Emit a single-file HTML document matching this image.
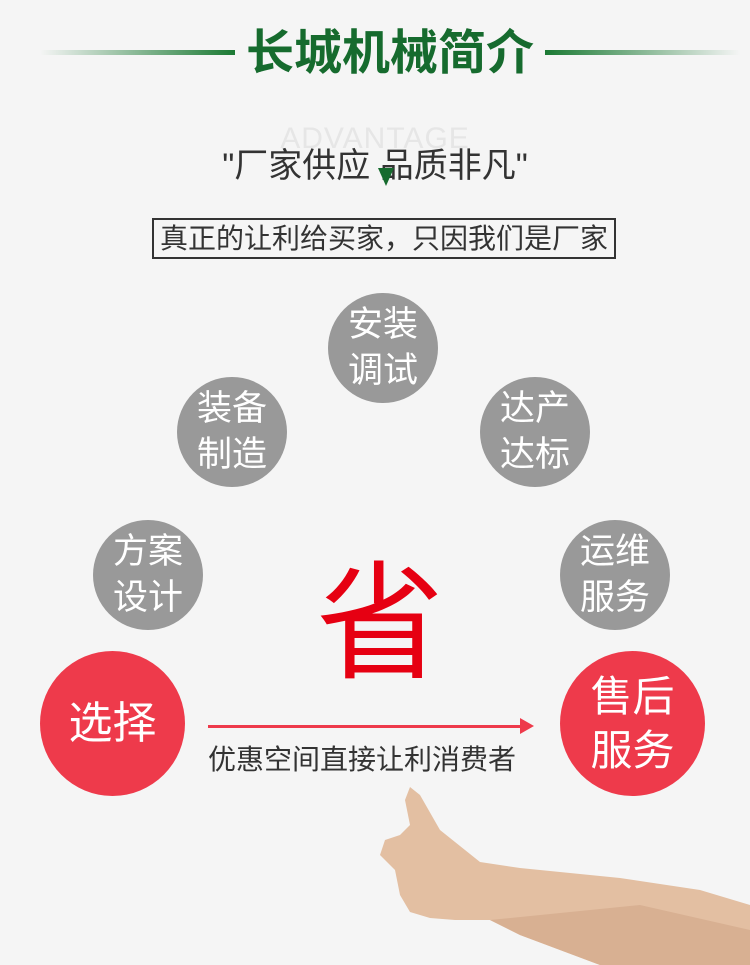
<!DOCTYPE html>
<html><head><meta charset="utf-8"><style>
body{margin:0;width:750px;height:965px;background:#f5f5f5;position:relative;overflow:hidden;font-family:"Liberation Sans","Noto Sans CJK SC",sans-serif}
.a{position:absolute}
.c{position:absolute;border-radius:50%;background:#999;color:#fff;display:flex;align-items:center;justify-content:center;text-align:center;font-size:35px;line-height:46px}
.r{background:#ee3a4b}
</style></head><body>
<div class="a" style="left:40px;top:50px;width:195px;height:5px;background:linear-gradient(to right,rgba(22,107,46,0),#1b7a34)"></div>
<div class="a" style="left:545px;top:50px;width:195px;height:5px;background:linear-gradient(to left,rgba(22,107,46,0),#1b7a34)"></div>
<div class="a" style="left:240px;top:22px;width:300px;text-align:center;font-size:48px;font-weight:bold;color:#166b2e;line-height:64px">长城机械简介</div>
<div class="a" style="left:0;top:122px;width:750px;text-align:center;font-size:30px;color:#e6e6e6;letter-spacing:1px">ADVANTAGE</div>
<div class="a" style="left:0;top:143px;width:750px;text-align:center;font-size:34px;color:#333;line-height:46px">"厂家供应&nbsp;品质非凡"</div>
<div class="a" style="left:378px;top:168px;width:0;height:0;border-left:8px solid transparent;border-right:8px solid transparent;border-top:18px solid #166b2e"></div>
<div class="a" style="left:152px;top:218px;width:460px;height:37px;border:2px solid #333;font-size:28px;color:#333;text-align:center;line-height:37px">真正的让利给买家，只因我们是厂家</div>
<div class="c" style="left:328px;top:293px;width:110px;height:110px">安装<br>调试</div>
<div class="c" style="left:177px;top:377px;width:110px;height:110px">装备<br>制造</div>
<div class="c" style="left:480px;top:377px;width:110px;height:110px">达产<br>达标</div>
<div class="c" style="left:93px;top:520px;width:110px;height:110px">方案<br>设计</div>
<div class="c" style="left:560px;top:520px;width:110px;height:110px">运维<br>服务</div>
<div class="c r" style="left:40px;top:651px;width:145px;height:145px;font-size:44px">选择</div>
<div class="c r" style="left:560px;top:651px;width:145px;height:145px;font-size:42px;line-height:54px">售后<br>服务</div>
<div class="a" style="left:310px;top:555px;width:140px;text-align:center;font-size:128px;color:#e60012;line-height:140px">省</div>
<div class="a" style="left:208px;top:725px;width:316px;height:3px;background:#ee3a4b"></div>
<div class="a" style="left:520px;top:718px;width:0;height:0;border-top:8px solid transparent;border-bottom:8px solid transparent;border-left:14px solid #ee3a4b"></div>
<div class="a" style="left:208px;top:741px;font-size:28px;color:#333;line-height:38px">优惠空间直接让利消费者</div>
<svg class="a" style="left:0;top:0" width="750" height="965">
<path d="M750,905 L750,965 L600,965 L520,935 L490,920 L455,920 L430,918 L410,912 L400,895 L395,870 L380,855 L385,840 L400,835 L410,825 L405,800 L410,787 L420,795 L440,830 L480,862 L520,868 L620,878 L700,890 Z" fill="#e3bfa2"/>
<path d="M490,920 L520,935 L600,965 L750,965 L750,930 L640,905 Z" fill="#d8b092"/>
</svg>
</body></html>
